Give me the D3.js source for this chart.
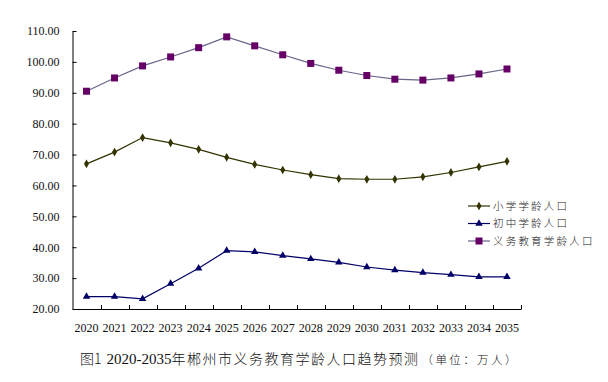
<!DOCTYPE html>
<html><head><meta charset="utf-8">
<script src="https://cdn.jsdelivr.net/npm/d3@7"></script>
<style>body{margin:0;background:#fff}svg{display:block}</style>
</head><body>
<svg id="c" width="608" height="382"></svg>
<script>
const years = ["2020","2021","2022","2023","2024","2025","2026","2027","2028","2029","2030","2031","2032","2033","2034","2035"];
const primary = [67.0,70.8,75.5,73.8,71.7,69.1,66.8,65.0,63.5,62.2,62.0,62.0,62.8,64.2,66.0,67.8];
const junior = [24.0,24.0,23.3,28.2,33.2,38.9,38.5,37.3,36.2,35.1,33.6,32.6,31.8,31.1,30.4,30.4];
const compulsory = [90.5,94.8,98.7,101.6,104.6,108.1,105.2,102.3,99.5,97.3,95.6,94.4,94.1,94.8,96.1,97.7];
const yTicks = [20,30,40,50,60,70,80,90,100,110];
const seriesNames = ["小学学龄人口","初中学龄人口","义务教育学龄人口"];
const captionFig = "图1";
const captionYears = "2020-2035";
const captionTitle = "年郴州市义务教育学龄人口趋势预测";
const captionUnit = "（单位：万人）";

const svg = d3.select("#c");
const x = d3.scaleBand().domain(years).range([72.5, 521]);
const y = d3.scaleLinear().domain([20,110]).range([309, 31]);

const serif = "'Liberation Serif','Times New Roman'";
const cjk = "'Noto Sans CJK SC'";

// axes
const gy = svg.append("g").attr("transform","translate(72.5,0)")
  .call(d3.axisLeft(y).tickValues(yTicks).tickFormat(d3.format(".2f")).tickSizeInner(-4).tickSizeOuter(0).tickPadding(13));
gy.selectAll("text").attr("font-family",serif).attr("font-size",12).attr("fill","#111");
gy.select(".domain").attr("stroke","#000");
gy.selectAll(".tick line").attr("stroke","#000");

const gx = svg.append("g").attr("transform","translate(0,309)")
  .call(d3.axisBottom(x).tickSize(0).tickPadding(14));
gx.selectAll("text").attr("font-family",serif).attr("font-size",12).attr("fill","#111");
gx.select(".domain").attr("stroke","#000");
const bounds = years.map(d => x(d)).concat([x.range()[1]]).slice(1);
svg.append("g").selectAll("line").data(bounds).join("line")
  .attr("x1",d=>Math.round(d)+0.5).attr("x2",d=>Math.round(d)+0.5)
  .attr("y1",309).attr("y2",305).attr("stroke","#000");

const cx = d => x(d) + x.bandwidth()/2;
const line = d3.line().x((d,i)=>cx(years[i])).y(d=>y(d));

const series = [
  {name: seriesNames[0], vals: primary, line:"#333300", fill:"#333300", shape:"diamond"},
  {name: seriesNames[1], vals: junior, line:"#000066", fill:"#000066", shape:"triangle"},
  {name: seriesNames[2], vals: compulsory, line:"#666688", fill:"#660066", shape:"square"}
];
const sym = {
  diamond: d3.symbol().type(d3.symbolDiamond).size(22),
  triangle: d3.symbol().type(d3.symbolTriangle).size(24),
  square: d3.symbol().type(d3.symbolSquare).size(49)
};

series.forEach(s => {
  svg.append("path").datum(s.vals).attr("d",line).attr("fill","none")
    .attr("stroke",s.line).attr("stroke-width",1.2);
  svg.append("g").selectAll("path").data(s.vals).join("path")
    .attr("d",sym[s.shape]())
    .attr("transform",(d,i)=>`translate(${cx(years[i])},${y(d)})`)
    .attr("fill",s.fill);
});

// legend
const lg = svg.append("g");
series.forEach((s,i) => {
  const yy = 206 + i*17.5;
  lg.append("line").attr("x1",468).attr("x2",490).attr("y1",yy).attr("y2",yy)
    .attr("stroke",s.line).attr("stroke-width",1.2);
  lg.append("path").attr("d",sym[s.shape]()).attr("transform",`translate(479,${yy})`).attr("fill",s.fill);
  lg.append("text").attr("x",493).attr("y",yy).attr("dy","0.36em")
    .attr("font-family",cjk).attr("font-size",10.5).attr("font-weight",300)
    .attr("letter-spacing",2.2).attr("fill","#222").text(s.name);
});

// caption
const cap = svg.append("text").attr("x",80).attr("y",364).attr("font-size",14).attr("fill","#111");
cap.append("tspan").attr("font-family",cjk).attr("font-weight",300).text(captionFig);
cap.append("tspan").attr("dx",5).attr("font-family",serif).attr("font-size",15).attr("font-weight",300).text(captionYears);
cap.append("tspan").attr("font-family",cjk).attr("font-weight",300).attr("letter-spacing",1.5).text(captionTitle);
cap.append("tspan").attr("dx",2).attr("font-family",cjk).attr("font-weight",300).attr("font-size",11.5).attr("letter-spacing",2.4).text(captionUnit);
</script>
</body></html>
